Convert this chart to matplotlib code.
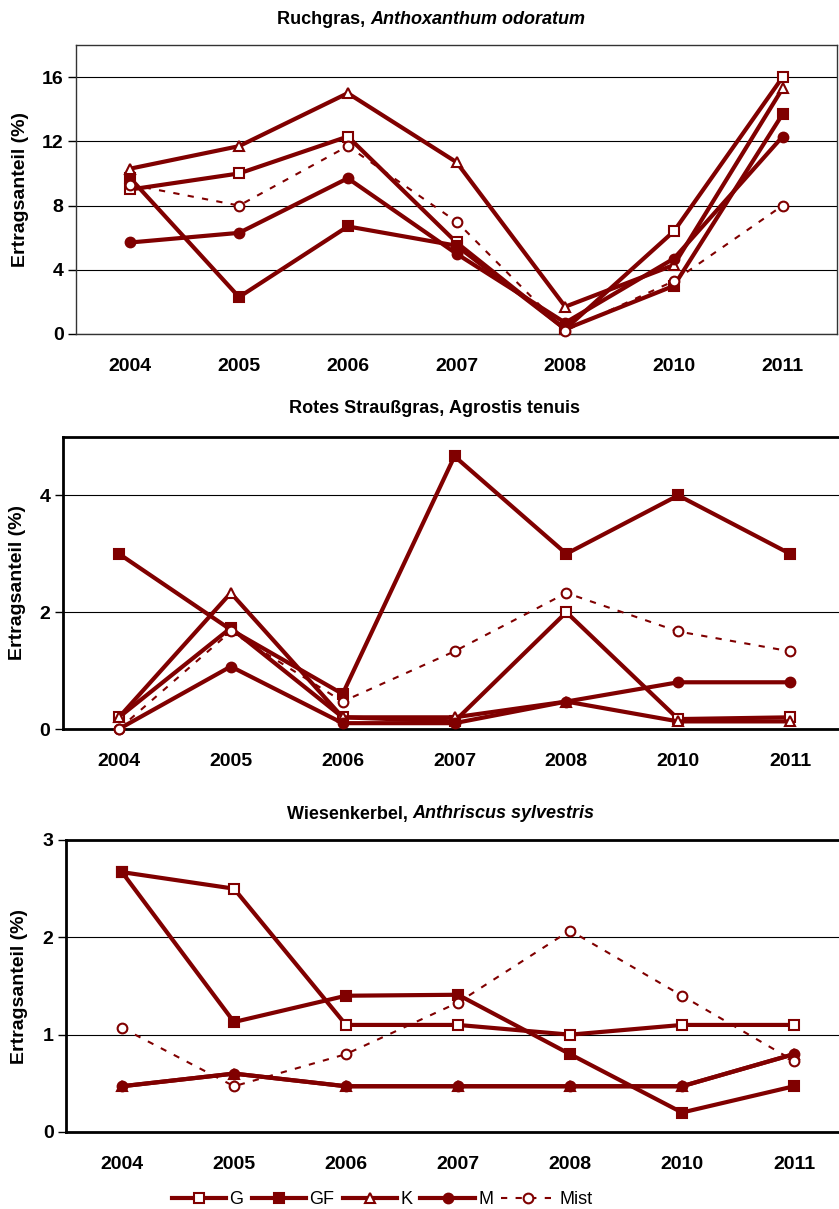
import numpy as np
import matplotlib.pyplot as plt
from matplotlib.text import Annotation

years = ['2004', '2005', '2006', '2007', '2008', '2010', '2011']

# Ruchgras, Anthoxanthum odoratum
ruch_g = [9.0, 10.0, 12.3, 5.7, 0.3, 6.4, 16.0]
ruch_gf = [9.7, 2.3, 6.7, 5.5, 0.3, 3.0, 13.7]
ruch_k = [10.3, 11.7, 15.0, 10.7, 1.7, 4.3, 15.3]
ruch_m = [5.7, 6.3, 9.7, 5.0, 0.7, 4.7, 12.3]
ruch_mist = [9.3, 8.0, 11.7, 7.0, 0.2, 3.3, 8.0]

# Rotes Straussgras, Agrostis tenuis
agro_g = [0.2, 1.73, 0.2, 0.13, 2.0, 0.17, 0.2]
agro_gf = [3.0, 1.7, 0.6, 4.67, 3.0, 4.0, 3.0]
agro_k = [0.2, 2.33, 0.2, 0.2, 0.47, 0.13, 0.13]
agro_m = [0.0, 1.07, 0.1, 0.1, 0.47, 0.8, 0.8]
agro_mist = [0.0, 1.67, 0.47, 1.33, 2.33, 1.67, 1.33]

# Wiesenkerbel, Anthriscus sylvestris
anth_g = [2.67, 2.5, 1.1, 1.1, 1.0, 1.1, 1.1]
anth_gf = [2.67, 1.13, 1.4, 1.41, 0.8, 0.2, 0.47]
anth_k = [0.47, 0.6, 0.47, 0.47, 0.47, 0.47, 0.8]
anth_m = [0.47, 0.6, 0.47, 0.47, 0.47, 0.47, 0.8]
anth_mist = [1.07, 0.47, 0.8, 1.33, 2.07, 1.4, 0.73]

labels = ['G', 'GF', 'K', 'M', 'Mist']
RED = '#800000'

plt.rcParams['font.family'] = 'Liberation Sans'

styles = {
    'G': dict(marker='s', mfc='white', ls='-', lw=3.0),
    'GF': dict(marker='s', mfc=RED, ls='-', lw=3.0),
    'K': dict(marker='^', mfc='white', ls='-', lw=3.0),
    'M': dict(marker='o', mfc=RED, ls='-', lw=3.0),
    'Mist': dict(marker='o', mfc='white', ls=(0, (3, 4)), lw=1.5),
}

fig = plt.figure(figsize=(8.39, 12.09), dpi=100)
W, H = 839, 1209


def add_axes(left, top, right, bottom):
    return fig.add_axes([left / W, 1 - bottom / H, (right - left) / W, (bottom - top) / H])


def draw_panel(ax, series, ymax, step, thick, label_x):
    x = np.arange(len(years))
    lines = []
    for name, vals in zip(labels, series):
        st = styles[name]
        ln, = ax.plot(x, vals, color=RED, marker=st['marker'], ms=7,
                      mfc=st['mfc'], mec=RED, mew=1.5, ls=st['ls'],
                      lw=st['lw'], label=name, clip_on=False, zorder=3)
        lines.append(ln)
    ax.set_xlim(-0.5, len(years) - 0.5)
    ax.set_ylim(0, ymax)
    ax.set_yticks(np.arange(0, ymax + 0.01, step))
    ax.set_xticks(x)
    ax.set_xticklabels(years)
    ax.yaxis.grid(True, color='black', lw=0.8)
    ax.set_axisbelow(True)
    ax.tick_params(axis='x', length=0, pad=17)
    ax.tick_params(axis='y', length=6, width=1, pad=3)
    for lab in ax.get_xticklabels() + ax.get_yticklabels():
        lab.set_fontweight('bold')
        lab.set_fontsize(14)
    for sp in ax.spines.values():
        sp.set_linewidth(2.0 if thick else 1.0)
        sp.set_color('black' if thick else '#333333')
    ax.set_ylabel('Ertragsanteil (%)', fontsize=14, fontweight='bold', va='center')
    # label centre given in pixels from the figure's left edge
    left_px = ax.get_position().x0 * W
    width_px = ax.get_position().width * W
    ax.yaxis.set_label_coords((label_x - left_px) / width_px, 0.5)
    return lines


def title(x, y, plain, italic, italic_style='italic'):
    t = fig.text(x / W, 1 - y / H, plain, fontsize=13, fontweight='bold',
                 ha='left', va='center')
    fig.add_artist(Annotation(italic, xy=(1, 0.5), xycoords=t, va='center',
                              ha='left', fontsize=13, fontweight='bold',
                              fontstyle=italic_style))


ax1 = add_axes(76, 45, 837, 334)
ax2 = add_axes(63, 437, 846, 729)
ax3 = add_axes(66, 840, 850, 1132)

lines = draw_panel(ax1, [ruch_g, ruch_gf, ruch_k, ruch_m, ruch_mist], 18, 4, False, 21)
draw_panel(ax2, [agro_g, agro_gf, agro_k, agro_m, agro_mist], 5, 2, True, 18)
draw_panel(ax3, [anth_g, anth_gf, anth_k, anth_m, anth_mist], 3, 1, True, 20)
ax2.set_yticks([0, 2, 4])

title(277, 20, 'Ruchgras, ', 'Anthoxanthum odoratum')
title(289, 408, 'Rotes Straußgras, ', 'Agrostis tenuis', 'normal')
title(287, 814, 'Wiesenkerbel, ', 'Anthriscus sylvestris')

fig.legend(lines, labels, loc='center', bbox_to_anchor=(382 / W, 1 - 1200 / H),
           ncol=5, frameon=False, fontsize=13, handlelength=3.0,
           handletextpad=0.2, columnspacing=0.45)

fig.savefig('out.png', dpi=100)
